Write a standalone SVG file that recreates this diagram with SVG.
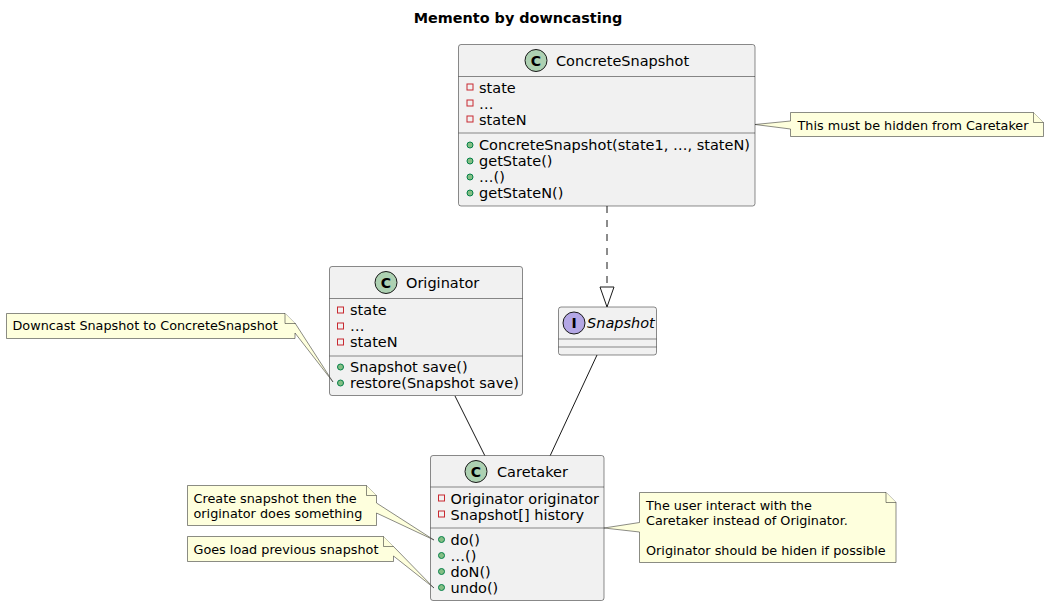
<svg xmlns="http://www.w3.org/2000/svg" width="1049" height="607" viewBox="0 0 1049 607">
<style>
.box{fill:#F1F1F1;stroke:#181818;stroke-width:0.5}
.sep{stroke:#181818;stroke-width:0.5}
.t{font-family:"DejaVu Sans",sans-serif;font-size:14.5px;fill:#000}
.n{font-family:"DejaVu Sans",sans-serif;font-size:12.8px;fill:#000}
.note{fill:#FEFFDD;stroke:#181818;stroke-width:0.5}
.priv{fill:none;stroke:#C82930;stroke-width:1}
.pub{fill:#84BE84;stroke:#038048;stroke-width:1}
.cc{fill:#ADD1B2;stroke:#181818;stroke-width:1}
.ic{fill:#B4A7E5;stroke:#181818;stroke-width:1}
.letter{font-family:"DejaVu Sans",sans-serif;font-size:14px;font-weight:bold;fill:#000}
.edge{fill:none;stroke:#181818;stroke-width:1}
</style>
<rect width="1049" height="607" fill="#FFFFFF"/>
<text x="518" y="23" text-anchor="middle" font-family="DejaVu Sans, sans-serif" font-size="14.4" font-weight="bold">Memento by downcasting</text>

<g id="connectors">
<path class="edge" d="M607,206 L607,287" stroke-dasharray="7,7"/>
<polygon points="600,287 614,287 607,307" fill="#FFFFFF" stroke="#181818" stroke-width="1"/>
<path class="edge" d="M455,396 L485,456"/>
<path class="edge" d="M597,355 L550,456"/>
</g>

<g id="ConcreteSnapshot">
<rect class="box" x="458.5" y="44.5" width="296.5" height="161.5" rx="2.5"/>
<circle class="cc" cx="536" cy="60.5" r="11"/>
<text class="letter" x="536" y="65.5" text-anchor="middle">C</text>
<text class="t" x="556" y="66">ConcreteSnapshot</text>
<line class="sep" x1="458.5" y1="76.5" x2="755" y2="76.5"/>
<rect class="priv" x="467" y="84" width="6" height="6"/>
<text class="t" x="479" y="93">state</text>
<rect class="priv" x="467" y="100" width="6" height="6"/>
<text class="t" x="479" y="109">…</text>
<rect class="priv" x="467" y="116" width="6" height="6"/>
<text class="t" x="479" y="125">stateN</text>
<line class="sep" x1="458.5" y1="133" x2="755" y2="133"/>
<circle class="pub" cx="470" cy="145" r="3"/>
<text class="t" x="479" y="150">ConcreteSnapshot(state1, …, stateN)</text>
<circle class="pub" cx="470" cy="161" r="3"/>
<text class="t" x="479" y="166">getState()</text>
<circle class="pub" cx="470" cy="177" r="3"/>
<text class="t" x="479" y="182">…()</text>
<circle class="pub" cx="470" cy="193" r="3"/>
<text class="t" x="479" y="198">getStateN()</text>
</g>

<g id="Originator">
<rect class="box" x="329.5" y="266.5" width="193" height="129" rx="2.5"/>
<circle class="cc" cx="386" cy="282.5" r="11"/>
<text class="letter" x="386" y="287.5" text-anchor="middle">C</text>
<text class="t" x="406" y="288">Originator</text>
<line class="sep" x1="329.5" y1="298.5" x2="522.5" y2="298.5"/>
<rect class="priv" x="337.5" y="307" width="6" height="6"/>
<text class="t" x="350" y="315">state</text>
<rect class="priv" x="337.5" y="323" width="6" height="6"/>
<text class="t" x="350" y="331">…</text>
<rect class="priv" x="337.5" y="339" width="6" height="6"/>
<text class="t" x="350" y="347">stateN</text>
<line class="sep" x1="329.5" y1="356" x2="522.5" y2="356"/>
<circle class="pub" cx="340.5" cy="367" r="3"/>
<text class="t" x="350" y="372">Snapshot save()</text>
<circle class="pub" cx="340.5" cy="383" r="3"/>
<text class="t" x="350" y="388">restore(Snapshot save)</text>
</g>

<g id="Snapshot">
<rect class="box" x="558.5" y="307" width="98" height="48" rx="2.5"/>
<circle class="ic" cx="574" cy="323" r="11"/>
<text class="letter" x="574" y="328" text-anchor="middle">I</text>
<text class="t" x="587" y="328" font-style="italic">Snapshot</text>
<line class="sep" x1="558.5" y1="339" x2="656.5" y2="339"/>
<line class="sep" x1="558.5" y1="347" x2="656.5" y2="347"/>
</g>

<g id="Caretaker">
<rect class="box" x="430.5" y="455.5" width="173.5" height="145" rx="2.5"/>
<circle class="cc" cx="476" cy="471.5" r="11"/>
<text class="letter" x="476" y="476.5" text-anchor="middle">C</text>
<text class="t" x="497" y="477">Caretaker</text>
<line class="sep" x1="430.5" y1="487" x2="604" y2="487"/>
<rect class="priv" x="438.5" y="495" width="6" height="6"/>
<text class="t" x="450.5" y="503.5">Originator originator</text>
<rect class="priv" x="438.5" y="511" width="6" height="6"/>
<text class="t" x="450.5" y="519.5">Snapshot[] history</text>
<line class="sep" x1="430.5" y1="528" x2="604" y2="528"/>
<circle class="pub" cx="441.5" cy="539.5" r="3"/>
<text class="t" x="450.5" y="544.5">do()</text>
<circle class="pub" cx="441.5" cy="555.5" r="3"/>
<text class="t" x="450.5" y="560.5">…()</text>
<circle class="pub" cx="441.5" cy="571.5" r="3"/>
<text class="t" x="450.5" y="576.5">doN()</text>
<circle class="pub" cx="441.5" cy="587.5" r="3"/>
<text class="t" x="450.5" y="592.5">undo()</text>
</g>

<g id="note_hidden">
<path class="note" d="M790.5,112.5 L1033.5,112.5 L1043.5,122.5 L1043.5,136.5 L790.5,136.5 L790.5,129 L755,124.5 L790.5,121 Z"/>
<path class="note" d="M1033.5,112.5 L1033.5,122.5 L1043.5,122.5"/>
<text class="n" x="797.5" y="129.5">This must be hidden from Caretaker</text>
</g>

<g id="note_downcast">
<path class="note" d="M6.5,313.5 L285,313.5 L295,323.5 L295,323 L333,382 L295,333 L295,338.5 L6.5,338.5 Z"/>
<path class="note" d="M285,313.5 L285,323.5 L295,323.5"/>
<text class="n" x="12.5" y="330">Downcast Snapshot to ConcreteSnapshot</text>
</g>

<g id="note_create">
<path class="note" d="M187.5,485.5 L366.5,485.5 L376.5,495.5 L376.5,503 L434,540 L376.5,513 L376.5,525.5 L187.5,525.5 Z"/>
<path class="note" d="M366.5,485.5 L366.5,495.5 L376.5,495.5"/>
<text class="n" x="193.5" y="502.5">Create snapshot then the</text>
<text class="n" x="193.5" y="518">originator does something</text>
</g>

<g id="note_goes">
<path class="note" d="M187.5,536.5 L383.5,536.5 L393.5,546.5 L434,588 L393.5,556 L393.5,561.5 L187.5,561.5 Z"/>
<path class="note" d="M383.5,536.5 L383.5,546.5 L393.5,546.5"/>
<text class="n" x="193.5" y="553.5">Goes load previous snapshot</text>
</g>

<g id="note_user">
<path class="note" d="M639.5,492.5 L886,492.5 L896,502.5 L896,562.5 L639.5,562.5 L639.5,532 L604,528 L639.5,522.5 Z"/>
<path class="note" d="M886,492.5 L886,502.5 L896,502.5"/>
<text class="n" x="646" y="509.5">The user interact with the</text>
<text class="n" x="646" y="525">Caretaker instead of Originator.</text>
<text class="n" x="646" y="554.5">Originator should be hiden if possible</text>
</g>
</svg>
